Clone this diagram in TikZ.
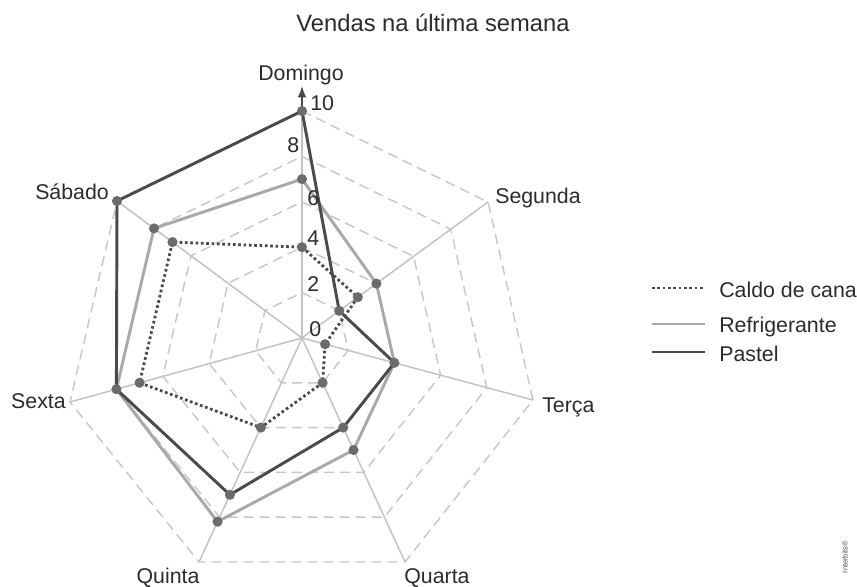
\documentclass[tikz,border=0pt]{standalone}
\usepackage{fontspec}
\setmainfont{Liberation Sans}
\usepackage{tikz}
\usetikzlibrary{calc,arrows.meta}
\definecolor{darkline}{HTML}{4A4A4A}
\definecolor{lightline}{HTML}{A9A9A9}
\definecolor{dotgray}{HTML}{6B6B6B}
\definecolor{axisgray}{HTML}{C2C2C2}
\definecolor{ringgray}{HTML}{C8C8C8}
\definecolor{txtgray}{HTML}{2B2B2B}

\begin{document}
\begin{tikzpicture}[x=0.75pt,y=-0.75pt,
    ring/.style={draw=ringgray, line width=1.1pt, dash pattern=on 7.5pt off 4.5pt},
    axis/.style={draw=axisgray, line width=1.1pt},
    caldo/.style={draw=darkline, line width=2.1pt, dash pattern=on 2pt off 2pt},
    refri/.style={draw=lightline, line width=2.2pt, line join=round},
    pastel/.style={draw=darkline, line width=2.2pt, line join=round},
    lbl/.style={font=\fontsize{16}{18}\selectfont, text=txtgray, inner sep=0pt}]
    \useasboundingbox (0,0) rectangle (857,586);
    \coordinate (c) at (302,338);
    \coordinate (dom) at (302,111);
    \coordinate (seg) at (488,202);
    \coordinate (ter) at (533,400);
    \coordinate (qua) at (405,562);
    \coordinate (qui) at (199,562);
    \coordinate (sex) at (70,402);
    \coordinate (sab) at (117,201);
    \coordinate (top) at (302,86);
    \foreach \r in {.2,.4,.6,.8,1}
        \draw[ring] ($(c)!\r!(dom)$) -- ($(c)!\r!(seg)$) -- ($(c)!\r!(ter)$) -- ($(c)!\r!(qua)$)
            -- ($(c)!\r!(qui)$) -- ($(c)!\r!(sex)$) -- ($(c)!\r!(sab)$) -- cycle;
    \foreach \v in {dom,seg,ter,qua,qui,sex,sab}
        \draw[axis] (c) -- (\v);
    \draw[darkline, line width=1.2pt, -{Latex[length=8.5pt,width=6.5pt]}] (dom) -- (top);
    \draw[caldo] ($(c)!.4!(dom)$) -- ($(c)!.3!(seg)$) -- ($(c)!.1!(ter)$) -- ($(c)!.2!(qua)$)
        -- ($(c)!.4!(qui)$) -- ($(c)!.7!(sex)$) -- ($(c)!.7!(sab)$) -- cycle;
    \draw[refri] ($(c)!.7!(dom)$) -- ($(c)!.4!(seg)$) -- ($(c)!.4!(ter)$) -- ($(c)!.5!(qua)$)
        -- ($(c)!.82!(qui)$) -- ($(c)!.8!(sex)$) -- ($(c)!.8!(sab)$) -- cycle;
    \draw[pastel] ($(c)!1!(dom)$) -- ($(c)!.2!(seg)$) -- ($(c)!.4!(ter)$) -- ($(c)!.4!(qua)$)
        -- ($(c)!.7!(qui)$) -- ($(c)!.8!(sex)$) -- ($(c)!1!(sab)$) -- cycle;
    \foreach \v/\p in {dom/.4,seg/.3,ter/.1,qua/.2,qui/.4,sex/.7,sab/.7,
                       dom/.7,seg/.4,ter/.4,qua/.5,qui/.82,sex/.8,sab/.8,
                       dom/1,seg/.2,qua/.4,qui/.7,sab/1}
        \fill[dotgray] ($(c)!\p!(\v)$) circle [radius=3.8pt];
    \node[lbl, font=\fontsize{17.8}{20}\selectfont, anchor=base] (title) at (433,31) {Vendas na última semana};
    \node[lbl, anchor=base] (ldom) at (301,80) {Domingo};
    \node[lbl, anchor=base west] (lseg) at (495,203) {Segunda};
    \node[lbl, anchor=base west] (lter) at (542,412) {Terça};
    \node[lbl, anchor=base] (lqua) at (437,583) {Quarta};
    \node[lbl, anchor=base] (lqui) at (168,583) {Quinta};
    \node[lbl, anchor=base] (lsex) at (38.5,408) {Sexta};
    \node[lbl, anchor=base west] (lsab) at (35,199) {Sábado};
    \foreach \t/\x/\y in {0/309/336,2/307/291,4/307/245,6/307/205,8/287/152,10/310/110}
        \node[lbl, anchor=base west] (t\t) at (\x,\y) {\t};
    \coordinate (k1) at (652,288);
    \coordinate (k2) at (652,324);
    \coordinate (k3) at (652,352);
    \coordinate (e1) at (705,288);
    \coordinate (e2) at (705,324);
    \coordinate (e3) at (705,352);
    \draw[caldo] (k1) -- (e1);
    \draw[refri] (k2) -- (e2);
    \draw[pastel] (k3) -- (e3);
    \node[lbl, anchor=base west] (n1) at (719,297) {Caldo de cana};
    \node[lbl, anchor=base west] (n2) at (719,332) {Refrigerante};
    \node[lbl, anchor=base west] (n3) at (719,361) {Pastel};
    \node[font=\fontsize{5.6}{6}\selectfont, text=darkline, rotate=90, inner sep=0pt] (credit) at (845,557) {Interbits®};
\end{tikzpicture}
\end{document}
